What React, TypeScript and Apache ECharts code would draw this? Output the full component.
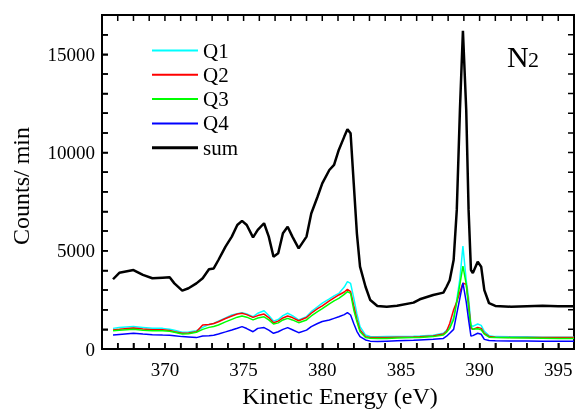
import React, { useEffect, useRef } from "react";
import * as echarts from "echarts";

const energies = [366.7, 367.1, 368.0, 368.6, 369.2, 369.85, 370.3, 370.6, 371.1, 371.5, 372.0, 372.4, 372.8, 373.1, 373.4, 373.85, 374.25, 374.6, 374.9, 375.2, 375.6, 375.9, 376.3, 376.6, 376.9, 377.2, 377.5, 377.8, 378.1, 378.5, 379.0, 379.3, 379.7, 380.0, 380.45, 380.75, 381.05, 381.4, 381.6, 381.8, 382.0, 382.2, 382.4, 382.75, 383.05, 383.5, 384.1, 384.75, 385.8, 386.2, 387.05, 387.7, 387.9, 388.1, 388.35, 388.55, 388.75, 388.94, 389.15, 389.3, 389.45, 389.57, 389.88, 390.1, 390.3, 390.6, 391.0, 392, 393, 394, 395, 396];

const sumValues = [3550, 3880, 4020, 3770, 3600, 3630, 3650, 3340, 2970, 3090, 3340, 3600, 4060, 4100, 4530, 5210, 5720, 6310, 6520, 6310, 5680, 6060, 6400, 5720, 4700, 4870, 5890, 6220, 5720, 5120, 5720, 6900, 7750, 8430, 9110, 9370, 10130, 10810, 11180, 10980, 8430, 5890, 4190, 3170, 2490, 2190, 2150, 2200, 2360, 2530, 2750, 2870, 3170, 3500, 4530, 7080, 12170, 16200, 12170, 7080, 4020, 3870, 4440, 4190, 3000, 2330, 2190, 2150, 2180, 2200, 2180, 2180];

const q1Values = [1050, 1100, 1140, 1100, 1050, 1050, 1000, 950, 850, 870, 930, 1100, 1250, 1300, 1420, 1580, 1730, 1800, 1850, 1780, 1640, 1820, 1950, 1700, 1420, 1500, 1700, 1820, 1700, 1480, 1650, 1900, 2150, 2330, 2550, 2700, 2830, 3150, 3430, 3340, 2600, 1800, 1140, 710, 640, 620, 630, 640, 650, 660, 700, 800, 950, 1140, 1600, 2500, 3600, 5240, 3500, 2600, 1220, 1150, 1270, 1200, 900, 680, 630, 620, 620, 600, 600, 600];

const q2Values = [970, 1000, 1070, 1020, 980, 980, 940, 880, 800, 820, 880, 1220, 1250, 1300, 1390, 1550, 1680, 1780, 1820, 1750, 1610, 1700, 1780, 1600, 1340, 1420, 1580, 1680, 1600, 1440, 1600, 1820, 2050, 2200, 2450, 2600, 2750, 2900, 3040, 2920, 2200, 1500, 970, 630, 590, 580, 590, 600, 610, 620, 660, 760, 900, 1300, 2000, 2400, 2900, 3350, 3300, 2330, 1050, 1000, 1100, 1050, 800, 640, 600, 590, 590, 580, 580, 580];

const q3Values = [930, 960, 1000, 960, 930, 930, 900, 850, 760, 780, 850, 1000, 1100, 1150, 1220, 1380, 1510, 1620, 1680, 1620, 1480, 1580, 1640, 1480, 1270, 1330, 1480, 1560, 1480, 1340, 1480, 1680, 1900, 2050, 2300, 2450, 2580, 2780, 2920, 2830, 2000, 1400, 880, 590, 550, 540, 540, 560, 580, 590, 630, 710, 850, 1050, 1500, 2400, 3300, 4220, 3300, 2100, 1140, 1000, 1030, 980, 760, 600, 580, 570, 560, 550, 540, 540];

const q4Values = [710, 740, 800, 760, 730, 710, 700, 680, 630, 610, 580, 660, 680, 700, 760, 870, 970, 1060, 1140, 1040, 880, 1050, 1090, 960, 800, 880, 1000, 1090, 980, 830, 960, 1140, 1300, 1400, 1480, 1560, 1640, 1750, 1850, 1730, 1300, 900, 630, 460, 400, 380, 400, 420, 440, 460, 500, 540, 650, 800, 1000, 1800, 2600, 3370, 2400, 1480, 660, 680, 800, 750, 490, 430, 420, 410, 410, 400, 400, 390];

const seriesNames = ["Q1", "Q2", "Q3", "Q4", "sum"];
const seriesColors = ["#00FFFF", "#FF0000", "#00FF00", "#0000FF", "#000000"];
const seriesWidths = [1.5, 1.5, 1.5, 1.5, 2.5];
const seriesValues = [q1Values, q2Values, q3Values, q4Values, sumValues];

const xLabelTicks = [370, 375, 380, 385, 390, 395];
const yLabelTicks = [0, 5000, 10000, 15000];
const xMinorTicks = [367, 368, 369, 370, 371, 372, 373, 374, 375, 376, 377, 378, 379, 380, 381, 382, 383, 384, 385, 386, 387, 388, 389, 390, 391, 392, 393, 394, 395];
const yMinorTicks = [1000, 2000, 3000, 4000, 5000, 6000, 7000, 8000, 9000, 10000, 11000, 12000, 13000, 14000, 15000, 16000];

const X_MIN = 366;
const X_MAX = 396;
const Y_MIN = 0;
const Y_MAX = 17000;

const W = 577;
const H = 409;
const GRID = { left: 102, right: 2, top: 15, bottom: 60 };

const FONT = "Liberation Serif";
const TICK = 6;

export default function App() {
  const ref = useRef<HTMLDivElement>(null);
  useEffect(() => {
    if (!ref.current) return;
    const chart = echarts.init(ref.current, null, { renderer: "svg" });
    // tick length in data units, from the plot size in pixels
    const plotW = W - GRID.left - GRID.right;
    const plotH = H - GRID.top - GRID.bottom;
    const dy = (TICK * (Y_MAX - Y_MIN)) / plotH;
    const dx = (TICK * (X_MAX - X_MIN)) / plotW;
    const xTickData: any[] = [];
    xMinorTicks.forEach((v) => {
      xTickData.push([v, Y_MIN], [v, Y_MIN + dy], [v, null], [v, Y_MAX], [v, Y_MAX - dy], [v, null]);
    });
    const yTickData: any[] = [];
    yMinorTicks.forEach((v) => {
      yTickData.push([X_MIN, v], [X_MIN + dx, v], [null, v], [X_MAX, v], [X_MAX - dx, v], [null, v]);
    });
    const tickSeries = (name: string, data: any[]) => ({
      name,
      type: "line",
      symbol: "none",
      silent: true,
      clip: false,
      connectNulls: false,
      z: 10,
      color: "#000",
      lineStyle: { color: "#000", width: 1.5 },
      data,
    });
    chart.setOption({
      animation: false,
      textStyle: { fontFamily: FONT, color: "#000" },
      grid: { ...GRID, show: true, borderColor: "#000", borderWidth: 2, backgroundColor: "transparent" },
      xAxis: {
        type: "value",
        min: X_MIN,
        max: X_MAX,
        interval: 1,
        splitLine: { show: false },
        axisLine: { show: true, lineStyle: { color: "#000", width: 2 } },
        axisTick: { show: true, inside: true, length: TICK, lineStyle: { color: "#000", width: 1.5 } },
        axisLabel: {
          margin: 11,
          color: "#000",
          fontFamily: FONT,
          fontSize: 19,
          formatter: (v: number) => (xLabelTicks.includes(v) ? String(v) : ""),
        },
      },
      yAxis: {
        type: "value",
        min: Y_MIN,
        max: Y_MAX,
        interval: 1000,
        splitLine: { show: false },
        axisLine: { show: true, lineStyle: { color: "#000", width: 2 } },
        axisTick: { show: true, inside: true, length: TICK, lineStyle: { color: "#000", width: 1.5 } },
        axisLabel: {
          margin: 7,
          color: "#000",
          fontFamily: FONT,
          fontSize: 19,
          formatter: (v: number) => (yLabelTicks.includes(v) ? String(v) : ""),
        },
      },
      legend: {
        orient: "vertical",
        left: 147,
        top: 35,
        itemWidth: 46,
        itemHeight: 14,
        itemGap: 3.3,
        textStyle: { fontFamily: FONT, fontSize: 21, color: "#000", lineHeight: 21 },
        data: seriesNames.map((n, i) => ({
          name: n,
          icon: i === 4 ? "path://M0,0 L46,0 L46,3 L0,3 Z" : "path://M0,0 L46,0 L46,2 L0,2 Z",
        })),
      },
      graphic: [
        {
          type: "text",
          x: 21,
          y: 186,
          rotation: Math.PI / 2,
          style: { text: "Counts/ min", fontFamily: FONT, fontSize: 24, fill: "#000", align: "center", verticalAlign: "middle" },
        },
        {
          type: "text",
          x: 340,
          y: 396,
          style: { text: "Kinetic Energy (eV)", fontFamily: FONT, fontSize: 24, fill: "#000", align: "center", verticalAlign: "middle" },
        },
        {
          type: "text",
          x: 507,
          y: 56,
          style: { text: "N", fontFamily: FONT, fontSize: 30, fill: "#000", align: "left", verticalAlign: "middle" },
        },
        {
          type: "text",
          x: 528,
          y: 59,
          style: { text: "2", fontFamily: FONT, fontSize: 22, fill: "#000", align: "left", verticalAlign: "middle" },
        },
      ],
      series: [
        ...seriesNames.map((name, i) => ({
          name,
          type: "line",
          symbol: "none",
          color: seriesColors[i],
          lineStyle: { color: seriesColors[i], width: seriesWidths[i] },
          data: energies.map((e, j) => [e, seriesValues[i][j]]),
        })),
        tickSeries("xticks", xTickData),
        tickSeries("yticks", yTickData),
      ],
    });
    return () => chart.dispose();
  }, []);
  return <div ref={ref} style={{ position: "fixed", left: 0, top: 0, width: W, height: H }} />;
}
